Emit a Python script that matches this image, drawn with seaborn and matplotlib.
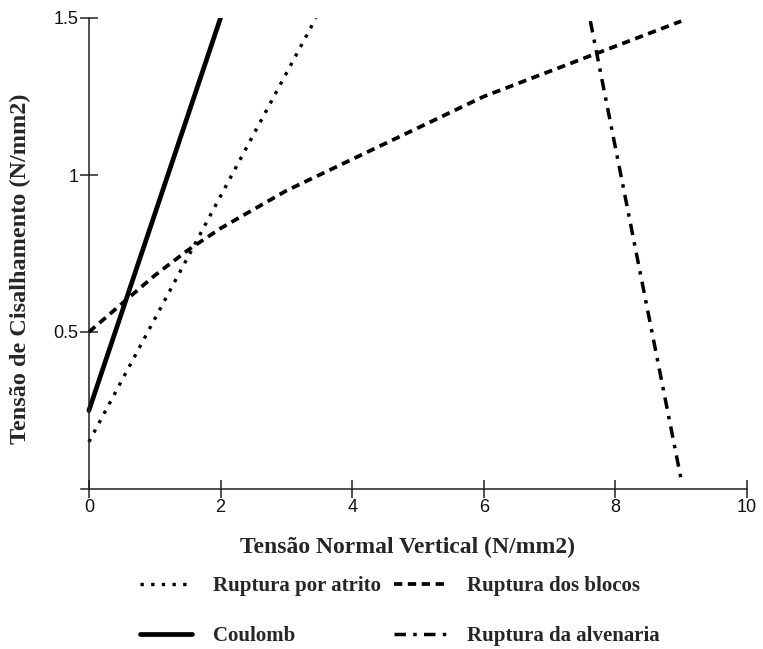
import numpy as np
import pandas as pd
import matplotlib
matplotlib.use('Agg')
import matplotlib.pyplot as plt
import seaborn as sns

# values (tensao normal x tensao de cisalhamento, N/mm2)
atrito_x = [0.0, 3.45]
atrito_y = [0.15, 1.50]

coulomb_x = [0.0, 2.0]
coulomb_y = [0.25, 1.50]

blocos_x = [0.0, 0.5, 1.0, 1.5, 2.0, 2.5, 3.0, 3.5, 4.0, 5.0, 6.0, 7.0, 8.0, 9.0]
blocos_y = [0.50, 0.59, 0.68, 0.76, 0.83, 0.89, 0.95, 1.00, 1.05, 1.15, 1.25, 1.33, 1.41, 1.49]

alvenaria_x = [7.62, 9.0]
alvenaria_y = [1.49, 0.03]

x_ticks = [0, 2, 4, 6, 8, 10]
y_ticks = [0.5, 1.0, 1.5]
y_ticklabels = ['0.5', '1', '1.5']

sns.set_style('white')
plt.rcParams['font.family'] = ['Liberation Serif', 'DejaVu Serif']

fig = plt.figure(figsize=(7.63, 6.49), dpi=100)
ax = fig.add_axes([81 / 763, 1 - 489 / 649, (747 - 81) / 763, (489 - 18) / 649])

sns.lineplot(x=atrito_x, y=atrito_y, ax=ax, color='black', lw=2.4,
             linestyle=(0, (1, 2.2)), dash_capstyle='butt', label='Ruptura por atrito')
sns.lineplot(x=coulomb_x, y=coulomb_y, ax=ax, color='black', lw=3.4,
             linestyle='-', label='Coulomb')
sns.lineplot(x=blocos_x, y=blocos_y, ax=ax, color='black', lw=2.7,
             linestyle=(0, (2.2, 1.5)), dash_capstyle='butt', label='Ruptura dos blocos')
sns.lineplot(x=alvenaria_x, y=alvenaria_y, ax=ax, color='black', lw=2.5,
             linestyle=(0, (3.3, 2.1, 1, 2.1)), dash_capstyle='butt', label='Ruptura da alvenaria')

ax.set_xlim(-0.12, 10)
ax.set_ylim(0, 1.5)
ax.spines['left'].set_position(('data', 0))
ax.spines['top'].set_visible(False)
ax.spines['right'].set_visible(False)
for s in ['left', 'bottom']:
    ax.spines[s].set_color('#222222')
    ax.spines[s].set_linewidth(1.1)

ax.set_xticks(x_ticks)
ax.set_yticks(y_ticks)
ax.set_yticklabels(y_ticklabels)
ax.tick_params(axis='both', direction='inout', length=13, width=1.1, color='#222222',
               labelsize=13, pad=1, bottom=True, left=True, labelcolor='#111111')
for lab in ax.get_xticklabels() + ax.get_yticklabels():
    lab.set_family(['Liberation Sans', 'DejaVu Sans'])

ax.set_xlabel('Tensão Normal Vertical (N/mm2)', fontsize=17, fontweight='bold')
ax.set_ylabel('Tensão de Cisalhamento (N/mm2)', fontsize=17.5, fontweight='bold')
ax.xaxis.set_label_coords((407 - 81) / 666, -(547 - 489) / 471)
ax.yaxis.set_label_coords(-(81 - 20) / 666, (489 - 269) / 471)
ax.xaxis.label.set_va('center')
ax.yaxis.label.set_va('center')

ax.get_legend().remove()
handles, labels = ax.get_legend_handles_labels()
fig.legend(handles, labels, loc='upper left', ncol=2, frameon=False,
           bbox_to_anchor=(140 / 763, 1 - 576 / 649), borderpad=0, borderaxespad=0,
           prop={'weight': 'bold', 'size': 15},
           handlelength=2.5, handletextpad=1.0, labelspacing=1.45, columnspacing=0.65)

fig.savefig('out.png', dpi=100)
